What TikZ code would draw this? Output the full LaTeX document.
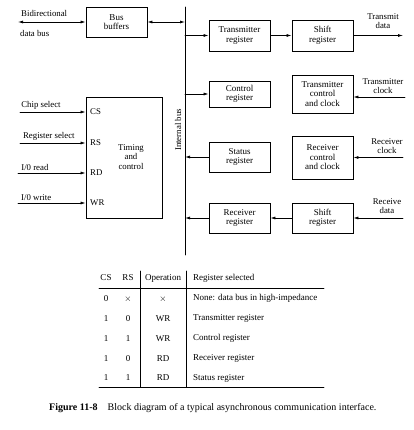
\documentclass[tikz,border=0pt]{standalone}
\usepackage{fontspec}
\setmainfont{Liberation Serif}
\usetikzlibrary{arrows.meta, positioning, calc}

\tikzset{
  blk/.style={draw, line width=0.8pt, minimum width=61pt, minimum height=30pt, align=center, inner sep=1pt, font=\fontsize{9}{9.5}\selectfont},
  lbl/.style={font=\fontsize{8.8}{9.2}\selectfont, align=center, inner sep=1pt},
  sig/.style={-{Latex[length=5pt,width=3pt]}, line width=0.7pt},
  bidir/.style={{Latex[length=5pt,width=3pt]}-{Latex[length=5pt,width=3pt]}, line width=0.7pt},
  cell/.style={font=\fontsize{9}{10}\selectfont, inner sep=1pt},
}

\begin{document}
\begin{tikzpicture}[x=1pt, y=-1pt, line cap=round]
  \useasboundingbox (0,0) rectangle (413,430);

  % Bus interno
  \coordinate (bustop) at (185,7);
  \coordinate (busbot) at (185,255);
  \draw[line width=0.9pt] (bustop) -- (busbot);
  \node[lbl, rotate=90] (buslbl) at (178,130) {Internal bus};

  % Bus buffers
  \node[blk] (buf) at (116.5,22) {Bus\\buffers};
  \coordinate (dbus) at (18,22);
  \draw[bidir] (dbus) -- (buf.west);
  \draw[bidir] (buf.east) -- (buf.east -| bustop);
  \node[lbl, anchor=west] (bidlbl) at (20,13) {Bidirectional};
  \node[lbl, anchor=west] (dblbl) at (19,33) {data bus};

  % Timing and control
  \node[blk, minimum width=76pt, minimum height=121pt] (tc) at (124,157.5) {};
  \node[lbl] (tctext) at (131,157) {Timing\\and\\control};
  \node[lbl, anchor=west] (cs) at (89,112) {CS};
  \node[lbl, anchor=west] (rs) at (89,143) {RS};
  \node[lbl, anchor=west] (rd) at (89,173) {RD};
  \node[lbl, anchor=west] (wr) at (89,203) {WR};
  \coordinate (csin) at (20,112);
  \coordinate (rsin) at (20,143);
  \coordinate (rdin) at (18,173);
  \coordinate (wrin) at (18,203);
  \draw[sig] (csin) -- (cs.west -| tc.west) node[lbl, pos=0.32, above=1pt] (cslbl) {Chip select};
  \draw[sig] (rsin) -- (rs.west -| tc.west) node[lbl, pos=0.44, above=1pt] (rslbl) {Register select};
  \draw[sig] (rdin) -- (rd.west -| tc.west) node[lbl, pos=0.25, above=1pt] (rdlbl) {I/0 read};
  \draw[sig] (wrin) -- (wr.west -| tc.west) node[lbl, pos=0.27, above=1pt] (wrlbl) {I/0 write};

  % Registros
  \node[blk, minimum height=31pt] (txreg) at (239.5,35.5) {Transmitter\\register};
  \node[blk, minimum height=31pt] (txsh) at (322.5,35.5) {Shift\\register};
  \node[blk, minimum height=26pt] (ctrl) at (239.5,94) {Control\\register};
  \node[blk, minimum height=38pt] (txcc) at (322.5,94) {Transmitter\\control\\and clock};
  \node[blk] (stat) at (239.5,157) {Status\\register};
  \node[blk, minimum height=43pt] (rxcc) at (322.5,157.5) {Receiver\\control\\and clock};
  \node[blk] (rxreg) at (239.5,218) {Receiver\\register};
  \node[blk] (rxsh) at (322.5,218) {Shift\\register};

  \draw[sig] (txreg.west -| bustop) -- (txreg.west);
  \draw[sig] (ctrl.west -| bustop) -- (ctrl.west);
  \draw[sig] (stat.west) -- (stat.west -| bustop);
  \draw[sig] (rxreg.west) -- (rxreg.west -| bustop);
  \draw[sig] (txreg) -- (txsh);
  \draw[sig] (rxsh) -- (rxreg);

  % Entradas y salidas serie
  \coordinate (txout) at (403,35.5);
  \coordinate (txclk) at (405,97);
  \coordinate (rxclk) at (403,157.5);
  \coordinate (rxin) at (403,218);
  \draw[sig] (txsh) -- (txout);
  \draw[sig] (txclk) -- (txclk -| txcc.east);
  \draw[sig] (rxclk) -- (rxcc);
  \draw[sig] (rxin) -- (rxsh);
  \node[lbl] (txdlbl) at (383,21) {Transmit\\data};
  \node[lbl] (txclbl) at (383,86) {Transmitter\\clock};
  \node[lbl] (rxclbl) at (387,146) {Receiver\\clock};
  \node[lbl] (rxdlbl) at (387,206) {Receive\\data};

  % Tabla
  \node[cell] (hcs) at (106,278) {CS};
  \node[cell] (hrs) at (128,278) {RS};
  \node[cell] (hop) at (163,278) {Operation};
  \node[cell, anchor=west] (hreg) at (192,278) {Register selected};
  \foreach \c/\r/\o/\g [count=\i] in {0/$\times$/$\times$/None: data bus in high-impedance,
      1/0/WR/Transmitter register, 1/1/WR/Control register,
      1/0/RD/Receiver register, 1/1/RD/Status register}{
    \node[cell] (c\i) at (106,279+19.8*\i) {\c};
    \node[cell] (r\i) at (128,279+19.8*\i) {\r};
    \node[cell] (o\i) at (163,279+19.8*\i) {\o};
    \node[cell, anchor=west] (g\i) at (192,279+19.8*\i) {\g};
  }
  \draw[line width=0.9pt] (99,288) -- (324,288);
  \draw[line width=0.9pt] (99,387) -- (324,387);
  \draw[line width=0.8pt] (140,271) -- (140,387);
  \draw[line width=0.8pt] (186,271) -- (186,387);

  % Pie
  \node[anchor=west, font=\fontsize{10}{11}\selectfont, inner sep=0pt] (cap) at (49,408)
    {\textbf{Figure 11-8}\hspace{10pt}Block diagram of a typical asynchronous communication interface.};
\end{tikzpicture}
\end{document}
